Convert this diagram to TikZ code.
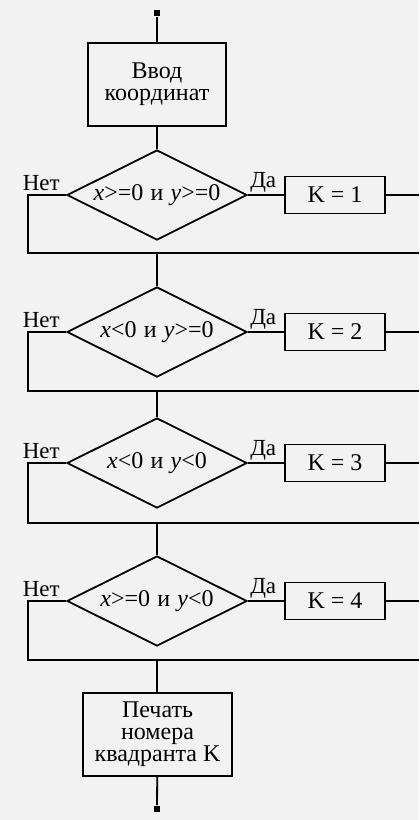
\documentclass[tikz,border=0pt]{standalone}
\usepackage{fontspec}
\setmainfont{Liberation Serif}
\usetikzlibrary{shapes.geometric,positioning,calc}

\begin{document}
\begin{tikzpicture}[
    x=0.5pt,
    y=-0.5pt,
    line join=miter,
    font=\fontsize{12}{11}\selectfont,
    block/.style={
        draw,
        line width=0.9pt,
        inner sep=0pt,
        align=center
    },
    cond/.style={
        draw,
        diamond,
        aspect=2,
        line width=0.9pt,
        inner sep=0pt,
        minimum width=90pt,
        minimum height=45pt
    },
    kbox/.style={draw,line width=0.9pt,minimum width=50pt,minimum height=18.5pt},
    term/.style={fill,inner sep=0pt,minimum size=3.4pt},
    flow/.style={line width=0.9pt},
    lab/.style={inner sep=1pt,font=\fontsize{11.5}{12}\selectfont}
]

\useasboundingbox[fill=black!5] (0,0) rectangle (419,820);

\node[term] (start) at (157,13) {};
\node[block,minimum width=69pt,minimum height=41.5pt] (inp) at (157,84.5) {Ввод\\координат};

\foreach \i/\yd/\ym/\cnd in {
    1/195/253/{\textit{x}>=0\hspace{0.3em}и\hspace{0.3em}\textit{y}>=0},
    2/332/391/{\textit{x}<0\hspace{0.3em}и\hspace{0.3em}\textit{y}>=0},
    3/463/523/{\textit{x}<0\hspace{0.3em}и\hspace{0.3em}\textit{y}<0},
    4/601/660/{\textit{x}>=0\hspace{0.3em}и\hspace{0.3em}\textit{y}<0}} {
    \node[cond] (d\i) at (157,\yd) {\cnd};
    \node[kbox] (k\i) at (335,\yd) {K = \i};
    \coordinate (m\i) at (157,\ym);
    \coordinate (w\i) at (28,\ym);
    \coordinate (e\i) at (419,\ym);
    \coordinate (o\i) at (419,\yd);
    \node[lab,anchor=south east,xshift=-2pt,yshift=1pt] (no\i) at (d\i.west) {Нет};
    \node[lab,anchor=south west] (yes\i) at (d\i.east) {Да};
    \draw[flow] (d\i.west) -| (w\i) -- (e\i);
    \draw[flow] (d\i) -- (k\i);
    \draw[flow] (k\i) -- (o\i);
}

\node[block,minimum width=74.5pt,minimum height=41.5pt] (out) at (157.5,734.5) {Печать\\номера\\квадранта K};
\node[term] (stop) at (157,809) {};

\draw[flow] (start) -- (inp);
\draw[flow] (inp) -- (d1);
\draw[flow] (m1) -- (d2);
\draw[flow] (m2) -- (d3);
\draw[flow] (m3) -- (d4);
\draw[flow] (m4) -- (m4 |- out.north);
\draw[flow] (out) -- (stop);

\end{tikzpicture}
\end{document}
